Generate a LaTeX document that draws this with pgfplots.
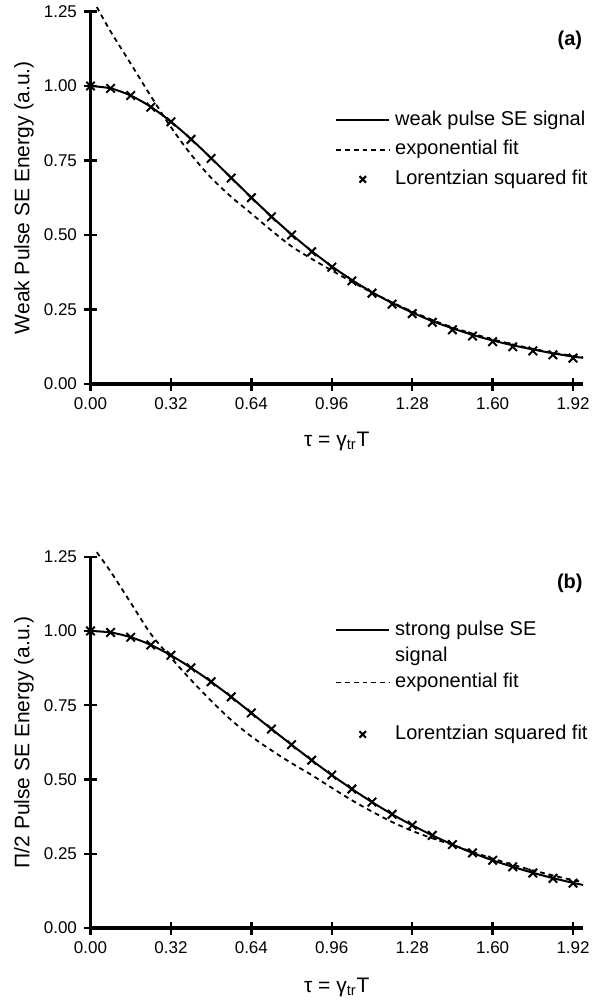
\documentclass[border=0pt]{standalone}
\usepackage{fontspec}
\setmainfont{Liberation Sans}
\usepackage{pgfplots}
\pgfplotsset{compat=1.18}

% both panels share the same look
\pgfplotsset{
  panel/.style={
    scale only axis,
    width=246.3pt,
    xmin=0, xmax=1.96,
    ymin=0, ymax=1.25,
    clip=false,
    axis x line=bottom,
    axis y line=left,
    axis line style={-, line width=1.8pt},
    xtick={0,0.32,0.64,0.96,1.28,1.6,1.92},
    ytick={0,0.25,0.5,0.75,1,1.25},
    tick align=center,
    major tick length=6.5pt,
    tick style={black, line width=1.2pt},
    tick label style={font=\fontsize{8.5}{10}\selectfont},
    /pgf/number format/.cd, fixed, fixed zerofill, precision=2, assume math mode=true,
    /pgfplots/.cd,
    label style={font=\fontsize{10.5}{12}\selectfont},
    ylabel style={anchor=center},
    xlabel style={anchor=center},
    legend cell align=left,
    legend style={draw=none, fill=none, inner sep=0pt, anchor=north west,
      font=\fontsize{10}{12}\selectfont,
      nodes={inner sep=0pt, text height=7.5pt, text depth=2.5pt},
      /tikz/every odd column/.style={column sep=2.5pt}},
    legend image code/.code={\draw[#1] (0pt,0pt) -- (26.5pt,0pt);},
  },
  sig/.style={black, line width=1pt, smooth},
  expfit/.style={black, line width=0.9pt, dash pattern=on 2.4pt off 2pt, smooth},
  lor/.style={black, only marks, mark=x, mark size=3pt, line width=1pt,
    legend image code/.code={\draw[##1, mark size=2.3pt] plot coordinates {(13.25pt,0pt)};}},
}

\begin{document}
\begin{tikzpicture}
\useasboundingbox (0,0) rectangle (296pt,-500pt);

% ---------------- (a) ----------------
\begin{axis}[panel, height=186.25pt,
  at={(45.25pt,-192pt)}, anchor=south west,
  xlabel={τ = γ\textsubscript{tr}T},
  ylabel={Weak Pulse SE Energy (a.u.)},
  xlabel style={at={(axis description cs:0.5,-0.153)}},
  ylabel style={at={(axis description cs:-0.135,0.5)}},
  legend style={at={(axis description cs:0.496,0.7356)}, /tikz/row sep=4.75pt},
]
\addplot[sig] coordinates {
  (0,1.000) (0.08,0.992) (0.16,0.968) (0.24,0.930) (0.32,0.880) (0.40,0.822)
  (0.48,0.758) (0.56,0.692) (0.64,0.626) (0.72,0.562) (0.80,0.502) (0.88,0.446)
  (0.96,0.395) (1.04,0.349) (1.12,0.308) (1.20,0.272) (1.28,0.240) (1.36,0.211)
  (1.44,0.187) (1.52,0.165) (1.60,0.146) (1.68,0.130) (1.76,0.116) (1.84,0.103)
  (1.92,0.092) (1.96,0.088)
};
\addlegendentry{weak pulse SE signal}
\addplot[expfit] coordinates {
  (0.025,1.265) (0.08,1.183) (0.16,1.075) (0.24,0.966) (0.32,0.862) (0.40,0.770)
  (0.48,0.692) (0.56,0.628) (0.64,0.572) (0.72,0.515) (0.80,0.462) (0.88,0.420)
  (0.96,0.381) (1.04,0.343) (1.12,0.307) (1.20,0.274) (1.28,0.243) (1.36,0.215)
  (1.44,0.190) (1.52,0.169) (1.60,0.150) (1.68,0.133) (1.76,0.118) (1.84,0.105)
  (1.92,0.094) (1.96,0.090)
};
\addlegendentry{exponential fit}
\addplot[lor] coordinates {
  (0,1.000) (0.08,0.992) (0.16,0.968) (0.24,0.929) (0.32,0.880) (0.40,0.821)
  (0.48,0.757) (0.56,0.691) (0.64,0.625) (0.72,0.561) (0.80,0.500) (0.88,0.444)
  (0.96,0.392) (1.04,0.346) (1.12,0.305) (1.20,0.268) (1.28,0.236) (1.36,0.207)
  (1.44,0.182) (1.52,0.161) (1.60,0.142) (1.68,0.125) (1.76,0.111) (1.84,0.098)
  (1.92,0.087)
};
\addlegendentry{Lorentzian squared fit}
\node[font=\bfseries\fontsize{10}{12}\selectfont] at (axis description cs:0.973,0.923) {(a)};
\end{axis}

% ---------------- (b) ----------------
\begin{axis}[panel, height=185.65pt,
  at={(45.25pt,-464pt)}, anchor=south west,
  xlabel={τ = γ\textsubscript{tr}T},
  ylabel={Π/2 Pulse SE Energy (a.u.)},
  xlabel style={at={(axis description cs:0.5,-0.159)}},
  ylabel style={at={(axis description cs:-0.135,0.5)}},
  legend style={at={(axis description cs:0.496,0.8295)}, /tikz/row sep=3pt},
]
\addplot[sig] coordinates {
  (0,1.000) (0.08,0.995) (0.16,0.979) (0.24,0.953) (0.32,0.918) (0.40,0.876)
  (0.48,0.829) (0.56,0.778) (0.64,0.724) (0.72,0.670) (0.80,0.617) (0.88,0.565)
  (0.96,0.515) (1.04,0.468) (1.12,0.424) (1.20,0.383) (1.28,0.346) (1.36,0.312)
  (1.44,0.281) (1.52,0.253) (1.60,0.228) (1.68,0.206) (1.76,0.186) (1.84,0.168)
  (1.92,0.152) (1.96,0.145)
};
\addlegendentry{strong pulse SE}
\addlegendimage{empty legend}
\addlegendentry{signal}
\addplot[expfit] coordinates {
  (0.025,1.265) (0.08,1.200) (0.16,1.095) (0.24,0.990) (0.32,0.910) (0.40,0.835)
  (0.48,0.765) (0.56,0.700) (0.64,0.645) (0.72,0.598) (0.80,0.555) (0.88,0.515)
  (0.96,0.472) (1.04,0.430) (1.12,0.392) (1.20,0.357) (1.28,0.327) (1.36,0.302)
  (1.44,0.280) (1.52,0.256) (1.60,0.234) (1.68,0.213) (1.76,0.194) (1.84,0.177)
  (1.92,0.161) (1.96,0.155)
};
\addlegendentry{exponential fit}
\addlegendimage{empty legend}
\addlegendentry{}
\addplot[lor] coordinates {
  (0,1.000) (0.08,0.995) (0.16,0.979) (0.24,0.953) (0.32,0.918) (0.40,0.876)
  (0.48,0.829) (0.56,0.778) (0.64,0.724) (0.72,0.670) (0.80,0.617) (0.88,0.565)
  (0.96,0.515) (1.04,0.468) (1.12,0.424) (1.20,0.383) (1.28,0.346) (1.36,0.312)
  (1.44,0.281) (1.52,0.253) (1.60,0.228) (1.68,0.206) (1.76,0.185) (1.84,0.167)
  (1.92,0.151)
};
\addlegendentry{Lorentzian squared fit}
\node[font=\bfseries\fontsize{10}{12}\selectfont] at (axis description cs:0.973,0.929) {(b)};
\end{axis}
\end{tikzpicture}
\end{document}
